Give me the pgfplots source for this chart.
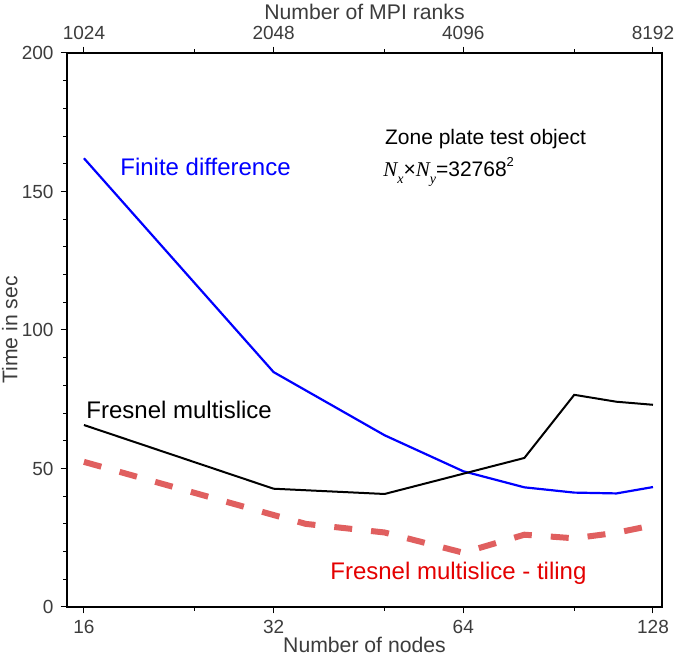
\documentclass[border=0pt]{standalone}
\usepackage{fontspec}
\setmainfont{Liberation Sans}
\newfontfamily\lserif{Liberation Serif}
\usepackage{pgfplots}
\pgfplotsset{compat=1.18}
\definecolor{fdblue}{RGB}{0,0,255}
\definecolor{tilered}{RGB}{224,95,95}
\definecolor{labred}{RGB}{228,0,0}
\definecolor{tickgray}{RGB}{60,60,60}

\begin{document}
\begin{tikzpicture}
\begin{axis}[
  name=main,
  scale only axis, width=297.5pt, height=277pt,
  xmode=log,
  ymin=0, ymax=200,
  tick align=outside,
  major tick length=3.2pt, minor tick length=1.8pt,
  tick style={black, line width=0.5pt},
  tick label style={font=\fontsize{9.5}{11}\selectfont, text=tickgray},
  label style={font=\fontsize{10.6}{12}\selectfont, text=tickgray},
  /pgf/number format/assume math mode=true,
  axis line style={line width=0.6pt, black},
  xmin=15.04, xmax=132.3,
  xtick={16,32,64,128}, xticklabels={16,32,64,128},
  minor xtick={24,48,96},
  xtick pos=bottom, ytick pos=left,
  ytick={0,50,100,150,200},
  minor ytick={10,20,30,40,60,70,80,90,110,120,130,140,160,170,180,190},
  xlabel={Number of nodes},
  ylabel={Time in sec},
  xlabel style={at={(axis description cs:0.5,-0.069)}, anchor=center},
  ylabel style={at={(axis description cs:-0.096,0.5)}, anchor=center},
  clip=false,
]
\addplot[fdblue, line width=1.1pt] coordinates {
  (16,162) (32,84.8) (48,62) (64,49) (80,43.2) (96,41.3) (112,41) (128,43.3)};
\addplot[black, line width=1pt] coordinates {
  (16,65.7) (32,42.7) (48,40.8) (80,53.8) (96,76.6) (112,74.1) (128,73.0)};
\addplot[tilered, line width=3pt, dash pattern=on 9pt off 9.5pt] coordinates {
  (16,52.4) (32,33.2) (36,30.0) (48,26.9) (64,19.6) (80,26.1) (96,24.8) (112,26.8) (128,29.5)};

\node[anchor=west, text=fdblue, font=\fontsize{12}{14}\selectfont, inner sep=0pt] at (rel axis cs:0.089,0.794) {Finite difference};
\node[anchor=west, text=black, font=\fontsize{10.5}{12}\selectfont, inner sep=0pt] at (rel axis cs:0.534,0.845) {Zone plate test object};
\node[anchor=west, text=black, font=\fontsize{10.5}{12}\selectfont, inner sep=0pt] at (rel axis cs:0.531,0.785)
  {{\lserif\itshape N\raisebox{-0.75ex}{\fontsize{7}{8}\selectfont x}}×{\lserif\itshape N\raisebox{-0.75ex}{\fontsize{7}{8}\selectfont y}}=32768\raisebox{0.85ex}{\fontsize{6.5}{7}\selectfont 2}};
\node[anchor=west, text=black, font=\fontsize{12}{14}\selectfont, inner sep=0pt] at (rel axis cs:0.032,0.356) {Fresnel multislice};
\node[anchor=west, text=labred, font=\fontsize{12}{14}\selectfont, inner sep=0pt] at (rel axis cs:0.442,0.061) {Fresnel multislice - tiling};
\end{axis}
\begin{axis}[
  scale only axis, width=297.5pt, height=277pt,
  xmode=log,
  ymin=0, ymax=200,
  tick align=outside,
  major tick length=3.2pt, minor tick length=1.8pt,
  tick style={black, line width=0.5pt},
  tick label style={font=\fontsize{9.5}{11}\selectfont, text=tickgray},
  label style={font=\fontsize{10.6}{12}\selectfont, text=tickgray},
  /pgf/number format/assume math mode=true,
  axis line style={line width=0.6pt, black},
  xmin=962.56, xmax=8467.2,
  xtick={1024,2048,4096,8192}, xticklabels={1024,2048,4096,8192},
  minor xtick={1536,3072,6144},
  axis x line*=top,
  ytick=\empty, axis y line*=right,
  xlabel={Number of MPI ranks},
  xlabel style={at={(axis description cs:0.5,1.074)}, anchor=center},
]
\end{axis}
\pgfresetboundingbox
\path[use as bounding box] ([xshift=-33.5pt,yshift=-25.5pt]main.south west) rectangle ([xshift=6pt,yshift=26.5pt]main.north east);
\end{tikzpicture}
\end{document}
